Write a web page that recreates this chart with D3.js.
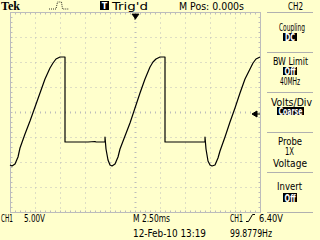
<!DOCTYPE html>
<html>
<head>
<meta charset="utf-8" />
<style>
    body { margin: 0; background: #ffffcc; }
    text {
        font-family: "Liberation Sans Narrow", "DejaVu Sans Condensed", "Liberation Sans", sans-serif;
        font-size: 11px;
        fill: #000;
    }
    text.inv { fill: #fff; font-weight: bold; }
    text.tek { font-family: "Liberation Serif", "DejaVu Serif", serif; font-weight: bold; font-size: 12px; }
    line.grid { stroke: #bcbcbc; stroke-width: 1; }
    line.sep { stroke: #b0b0b0; stroke-width: 1; }
    path.trace { fill: none; stroke: #000; stroke-width: 1.2; stroke-linejoin: round; }
</style>
<script src="https://d3js.org/d3.v7.min.js"></script>
</head>
<body>
<script>

// CH1 trace: time in ms (0 = trigger point), voltage in V
let timeMs = [
    -12.5, -12.3, -12.0, -11.7, -11.5, -11.0, -10.5, -10.0, -9.5, -9.0,
    -8.5, -8.2, -7.9, -7.5, -7.0, -7.0, -4.7, -4.0, -3.9, -3.0,
    -3.0, -2.9, -2.7, -2.5, -2.3, -2.0, -1.7, -1.5, -1.0, -0.5,
    0.0, 0.5, 1.0, 1.5, 1.8, 2.1, 2.5, 3.0, 3.0, 4.5,
    7.0, 7.0, 7.1, 7.3, 7.5, 7.7, 8.0, 8.3, 8.5, 9.0,
    9.5, 10.0, 10.5, 11.0, 11.5, 11.8, 12.1, 12.5
];
let volts = [
    -3.8, -4.0, -3.6, -2.2, -0.4, 2.4, 5.0, 7.8, 10.6, 13.4,
    15.6, 16.6, 17.4, 17.8, 17.8, 0.8, 0.8, 0.9, 0.8, 0.8,
    1.8, -0.6, -2.8, -3.8, -4.0, -3.6, -2.2, -0.6, 2.0, 4.6,
    7.6, 10.6, 13.4, 15.8, 16.8, 17.4, 17.8, 17.8, 0.8, 0.8,
    0.8, 1.8, -0.6, -3.0, -3.8, -4.0, -3.8, -2.4, -1.0, 1.8,
    4.8, 7.6, 10.6, 13.4, 15.4, 16.6, 17.4, 17.8
];

// scope settings
let voltsPerDiv = 5.0;
let msPerDiv = 2.5;
let groundDiv = -1.36;   // CH1 ground marker, divisions from centre
let trigLevel = 6.4;

// side menu (CH2)
let menuTitles = ["Coupling", "BW Limit", "Volts/Div", "Probe", "Invert"];

let W = 320, H = 240;
let plot = { left: 10, top: 12, width: 250, height: 200 };

let svg = d3.select("body").append("svg")
    .attr("width", W)
    .attr("height", H);

svg.append("rect")
    .attr("width", W).attr("height", H)
    .attr("fill", "#ffffcc");

let xScale = d3.scaleLinear()
    .domain([-5 * msPerDiv, 5 * msPerDiv])
    .range([plot.left, plot.left + plot.width]);

let yScale = d3.scaleLinear()
    .domain([(-4 - groundDiv) * voltsPerDiv, (4 - groundDiv) * voltsPerDiv])
    .range([plot.top + plot.height, plot.top]);

let g = svg.append("g").attr("transform", "translate(0.5,0.5)");

// graticule: dotted division lines
let xDivs = d3.range(-4, 5).map(d => xScale(d * msPerDiv));
let yDivs = d3.range(-3, 4).map(d => yScale((d - groundDiv) * voltsPerDiv));
let xCentre = xScale(0), yCentre = yScale(-groundDiv * voltsPerDiv);

g.selectAll("line.vdiv")
    .data(xDivs.filter(x => Math.abs(x - xCentre) > 1))
    .enter().append("line")
    .attr("class", "grid")
    .attr("x1", d => d).attr("x2", d => d)
    .attr("y1", plot.top + 5).attr("y2", plot.top + plot.height)
    .attr("stroke-dasharray", "1,4");

g.selectAll("line.hdiv")
    .data(yDivs.filter(y => Math.abs(y - yCentre) > 1))
    .enter().append("line")
    .attr("class", "grid")
    .attr("x1", plot.left + 5).attr("x2", plot.left + plot.width)
    .attr("y1", d => d).attr("y2", d => d)
    .attr("stroke-dasharray", "1,4");

// centre axes with minor ticks every 1/5 div
let xMinor = d3.range(1, 50).map(i => plot.left + i * 5);
let yMinor = d3.range(1, 40).map(i => plot.top + i * 5);

g.selectAll("line.cx")
    .data(xMinor)
    .enter().append("line")
    .attr("class", "grid")
    .attr("x1", d => d).attr("x2", d => d)
    .attr("y1", yCentre - 1).attr("y2", yCentre + 1);

g.selectAll("line.cy")
    .data(yMinor)
    .enter().append("line")
    .attr("class", "grid")
    .attr("x1", xCentre - 1).attr("x2", xCentre + 1)
    .attr("y1", d => d).attr("y2", d => d);

// border ticks
g.selectAll("line.bt")
    .data(xMinor)
    .enter().append("line")
    .attr("class", "grid")
    .attr("x1", d => d).attr("x2", d => d)
    .attr("y1", plot.top).attr("y2", plot.top + 2);
g.selectAll("line.bb")
    .data(xMinor)
    .enter().append("line")
    .attr("class", "grid")
    .attr("x1", d => d).attr("x2", d => d)
    .attr("y1", plot.top + plot.height - 2).attr("y2", plot.top + plot.height);
g.selectAll("line.bl")
    .data(yMinor)
    .enter().append("line")
    .attr("class", "grid")
    .attr("x1", plot.left).attr("x2", plot.left + 2)
    .attr("y1", d => d).attr("y2", d => d);
g.selectAll("line.br")
    .data(yMinor)
    .enter().append("line")
    .attr("class", "grid")
    .attr("x1", plot.left + plot.width - 2).attr("x2", plot.left + plot.width)
    .attr("y1", d => d).attr("y2", d => d);

g.append("rect")
    .attr("x", plot.left).attr("y", plot.top)
    .attr("width", plot.width).attr("height", plot.height)
    .attr("fill", "none")
    .attr("stroke", "#bcbcbc");

// the trace
let line = d3.line()
    .x((d, i) => xScale(timeMs[i]))
    .y(d => yScale(d));

svg.append("path")
    .datum(volts)
    .attr("class", "trace")
    .attr("d", line);

// trigger position marker (top) and trigger level marker (right)
let tx = xScale(0);
svg.append("path")
    .attr("d", `M${tx - 3},${plot.top + 2}h7l-3.5,5z M${tx},${plot.top + 2}v6`)
    .attr("fill", "#000").attr("stroke", "#000").attr("stroke-width", 0.8);

let ty = yScale(trigLevel);
svg.append("path")
    .attr("d", `M${plot.left + plot.width - 8},${ty}l5,-3v6z M${plot.left + plot.width - 4},${ty}h4`)
    .attr("fill", "#000").attr("stroke", "#000").attr("stroke-width", 1);

// helper for compressed scope lettering
function label(x, y, s, w, cls) {
    return svg.append("text")
        .attr("x", x).attr("y", y)
        .attr("class", cls || null)
        .attr("textLength", w)
        .attr("lengthAdjust", "spacingAndGlyphs")
        .text(s);
}

function invBox(x, y, w, h, s, tw) {
    svg.append("rect")
        .attr("x", x).attr("y", y)
        .attr("width", w).attr("height", h)
        .attr("fill", "#000");
    label(x + (w - tw) / 2, y + h - 0.5, s, tw, "inv");
}

// top status line
label(1, 9.5, "Tek", 19, "tek");
svg.append("path")
    .attr("d", "M49,9h7l1.5,-7h4l1,7h6")
    .attr("fill", "none").attr("stroke", "#000").attr("stroke-width", 0.8)
    .attr("stroke-dasharray", "1,1");
svg.append("rect").attr("x", 100).attr("y", 1).attr("width", 9).attr("height", 9).attr("fill", "#000");
svg.append("text")
    .attr("class", "inv")
    .attr("x", 104.5).attr("y", 8.8)
    .attr("text-anchor", "middle")
    .style("font-size", "9px")
    .text("T");
label(112, 9.5, "Trig'd", 36);
label(179, 9.5, "M Pos: 0.000s", 65);
label(288, 9.5, "CH2", 15);

// side menu
let sepY = [12, 52, 92, 132, 172, 212];
svg.selectAll("line.sep")
    .data(sepY)
    .enter().append("line")
    .attr("class", "sep")
    .attr("x1", 267).attr("x2", 313)
    .attr("y1", d => d + 0.5).attr("y2", d => d + 0.5);

label(279, 30.5, menuTitles[0], 26);
invBox(283, 33, 14, 8, "DC", 10);
label(273, 64.5, menuTitles[1], 35);
invBox(283, 67, 14, 8, "Off", 11);
label(280, 84.5, "40MHz", 20);
label(271, 105.5, menuTitles[2], 41);
invBox(277, 107, 27, 8, "Coarse", 24);
label(278, 144.5, menuTitles[3], 24);
label(285, 154.5, "1X", 9);
label(273, 166.5, "Voltage", 34);
label(277, 189.5, menuTitles[4], 25);
invBox(283, 193, 14, 9, "Off", 11);

// bottom status lines
label(1, 221.5, "CH1", 12);
label(24, 221.5, voltsPerDiv.toFixed(2) + "V", 21);
label(133, 221.5, "M " + msPerDiv.toFixed(2) + "ms", 37);
label(230, 221.5, "CH1", 13);
svg.append("path")
    .attr("d", "M246,221.5h2.5l4,-7h2.5")
    .attr("fill", "none").attr("stroke", "#000").attr("stroke-width", 1);
label(259, 221.5, trigLevel.toFixed(2) + "V", 24);
label(133, 236.5, "12-Feb-10 13:19", 73);
label(230, 236.5, "99.8779Hz", 42);

</script>
</body>
</html>
